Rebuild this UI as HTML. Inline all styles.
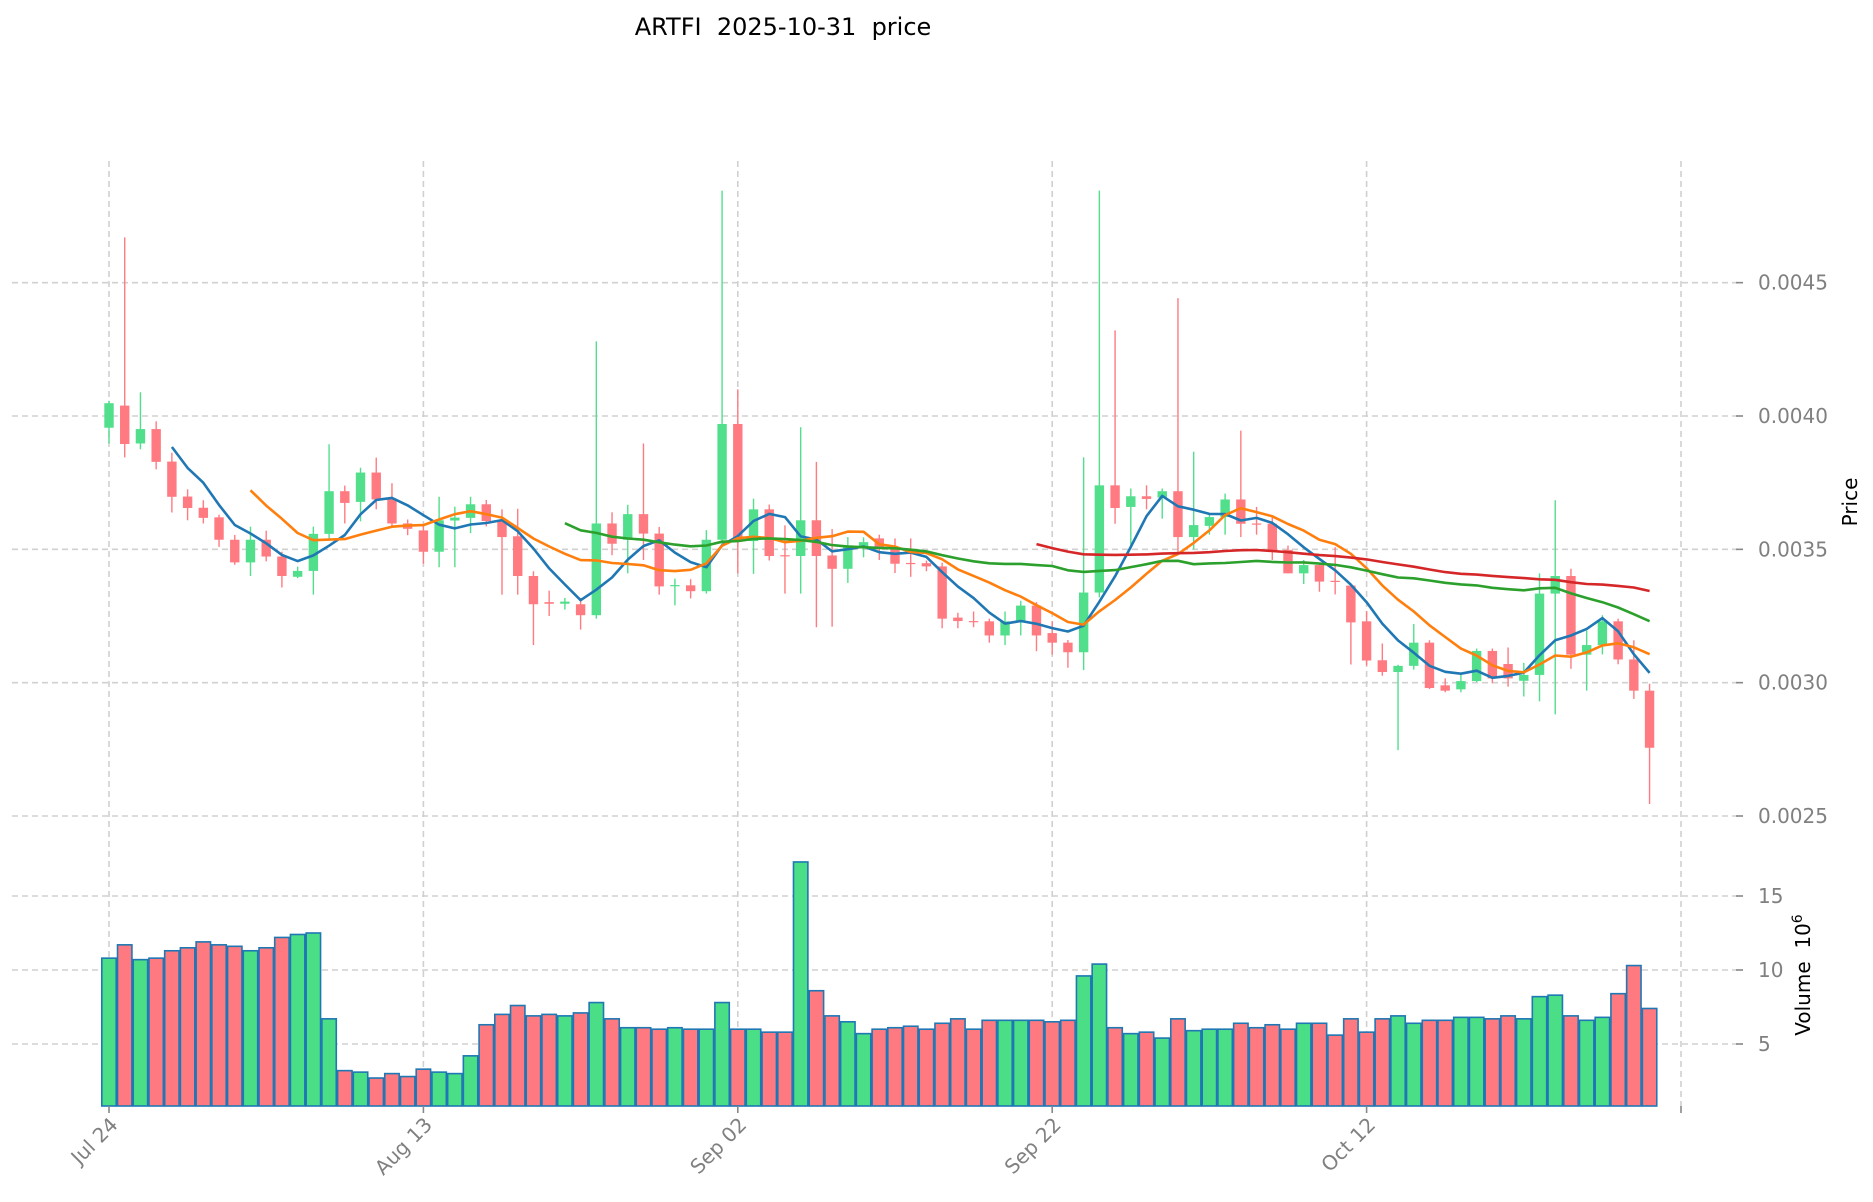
<!DOCTYPE html>
<html><head><meta charset="utf-8"><style>
html,body{margin:0;padding:0;background:#fff;}
svg{display:block;font-family:"DejaVu Sans","Liberation Sans",sans-serif;}
</style></head><body>
<svg id="chart" width="1873" height="1202" viewBox="0 0 1873 1202" xmlns="http://www.w3.org/2000/svg">
<text x="783" y="35" font-size="24" text-anchor="middle" fill="#000" xml:space="preserve" style="white-space:pre">ARTFI  2025-10-31  price</text>
<g id="grid"></g>
<g id="vol"></g>
<g id="candles"></g>
<g id="mas"></g>
<g id="axes"></g>
<text transform="translate(1857,502) rotate(-90)" font-size="20" text-anchor="middle" fill="#000">Price</text>
<text transform="translate(1810,975) rotate(-90)" font-size="20" text-anchor="middle" fill="#000" xml:space="preserve" style="white-space:pre">Volume  10<tspan font-size="14" dy="-8">6</tspan></text>
</svg>
<script>
const opens=[0.003956,0.004039,0.003897,0.003951,0.003829,0.003698,0.003656,0.00362,0.003536,0.003451,0.003536,0.003473,0.003397,0.003419,0.003558,0.003718,0.003678,0.003788,0.003687,0.003597,0.003571,0.003491,0.003608,0.003618,0.003669,0.003606,0.003549,0.0034,0.003302,0.003296,0.003294,0.003253,0.003597,0.003536,0.003632,0.003559,0.003362,0.003365,0.003343,0.003536,0.00397,0.003531,0.00365,0.003478,0.003475,0.003609,0.003477,0.003427,0.003509,0.003541,0.003502,0.003449,0.003448,0.003436,0.003244,0.003231,0.00323,0.003177,0.00323,0.003289,0.003186,0.00315,0.003114,0.003338,0.00374,0.003659,0.003699,0.003694,0.003718,0.003546,0.003588,0.003621,0.003687,0.003597,0.003596,0.003498,0.00341,0.003441,0.003382,0.003364,0.00323,0.003084,0.00304,0.003063,0.00315,0.00299,0.002975,0.003006,0.003119,0.00307,0.003007,0.003029,0.003334,0.0034,0.003105,0.003141,0.00323,0.003087,0.00297];
const highs=[0.004057,0.00467,0.004089,0.00398,0.003862,0.003725,0.003684,0.00363,0.003554,0.003585,0.00357,0.003491,0.003435,0.003585,0.003894,0.003739,0.003806,0.003844,0.003748,0.003612,0.00359,0.003697,0.00366,0.003697,0.003685,0.00365,0.003652,0.003418,0.003345,0.003318,0.003318,0.00428,0.003639,0.003667,0.003897,0.003584,0.00339,0.003388,0.003572,0.004845,0.0041,0.00369,0.003668,0.00359,0.003958,0.003828,0.003576,0.003546,0.003545,0.003555,0.003541,0.003541,0.003458,0.00345,0.003262,0.003267,0.00324,0.003267,0.003307,0.003302,0.00323,0.00316,0.003845,0.004845,0.004321,0.003728,0.00374,0.003728,0.004442,0.003866,0.003636,0.003709,0.003945,0.003659,0.003621,0.003514,0.00346,0.003445,0.003508,0.00337,0.003268,0.003147,0.003067,0.00322,0.003159,0.003016,0.003029,0.003128,0.003128,0.003132,0.003074,0.00341,0.003684,0.003427,0.003195,0.003253,0.00324,0.003159,0.002996];
const lows=[0.003897,0.003845,0.003875,0.0038,0.003638,0.003609,0.003597,0.003509,0.003442,0.0034,0.003455,0.003357,0.003392,0.00333,0.003536,0.003597,0.003605,0.00365,0.00358,0.003553,0.003446,0.003433,0.003433,0.003561,0.003586,0.00333,0.00333,0.003141,0.00325,0.003274,0.003199,0.00324,0.003478,0.00341,0.00346,0.00333,0.00329,0.003316,0.003334,0.00352,0.00341,0.003408,0.003458,0.003334,0.003334,0.003208,0.00321,0.003374,0.00347,0.00346,0.003411,0.003397,0.003418,0.003204,0.003204,0.003208,0.00315,0.003141,0.003177,0.003118,0.003105,0.003056,0.003047,0.00332,0.003596,0.0035,0.00365,0.003615,0.00349,0.0035,0.003555,0.003555,0.003546,0.003555,0.00346,0.00341,0.00337,0.003341,0.003331,0.003068,0.003064,0.003026,0.002747,0.003049,0.002976,0.002964,0.002964,0.003002,0.002998,0.002985,0.002948,0.00293,0.002881,0.003052,0.00297,0.003106,0.003069,0.002939,0.002545];
const closes=[0.004048,0.003895,0.003951,0.003828,0.003697,0.003655,0.003618,0.003536,0.003451,0.003536,0.003473,0.0034,0.003419,0.003558,0.003718,0.003674,0.003788,0.003687,0.003597,0.003577,0.003491,0.003609,0.003619,0.003669,0.003606,0.003546,0.0034,0.003294,0.003296,0.003304,0.003253,0.003597,0.003521,0.003632,0.003559,0.003361,0.003366,0.003343,0.003536,0.00397,0.003533,0.00365,0.003475,0.003476,0.003609,0.003475,0.003427,0.003515,0.003527,0.003502,0.003446,0.003448,0.003436,0.00324,0.003231,0.00323,0.003177,0.00323,0.003289,0.003177,0.00315,0.003114,0.003338,0.00374,0.003655,0.003699,0.003689,0.003718,0.003546,0.003591,0.003621,0.003687,0.003596,0.003595,0.003496,0.00341,0.003441,0.003379,0.00338,0.003226,0.003083,0.00304,0.003063,0.00315,0.00298,0.00297,0.003006,0.003119,0.003016,0.003016,0.003029,0.003334,0.0034,0.003105,0.003141,0.00323,0.003087,0.00297,0.002756];
const volumes=[10.8,11.7,10.7,10.8,11.3,11.5,11.9,11.7,11.6,11.3,11.5,12.2,12.4,12.5,6.7,3.2,3.1,2.7,3.0,2.8,3.3,3.1,3.0,4.2,6.3,7.0,7.6,6.9,7.0,6.9,7.1,7.8,6.7,6.1,6.1,6.0,6.1,6.0,6.0,7.8,6.0,6.0,5.8,5.8,17.3,8.6,6.9,6.5,5.7,6.0,6.1,6.2,6.0,6.4,6.7,6.0,6.6,6.6,6.6,6.6,6.5,6.6,9.6,10.4,6.1,5.7,5.8,5.4,6.7,5.9,6.0,6.0,6.4,6.1,6.3,6.0,6.4,6.4,5.6,6.7,5.8,6.7,6.9,6.4,6.6,6.6,6.8,6.8,6.7,6.9,6.7,8.2,8.3,6.9,6.6,6.8,8.4,10.3,7.4];
const xTickIdx=[0,20,40,60,80,100];
const xTickLabels=["Jul 24","Aug 13","Sep 02","Sep 22","Oct 12",""];
const priceTicks=[0.0025,0.0030,0.0035,0.0040,0.0045];
const priceTickLabels=["0.0025","0.0030","0.0035","0.0040","0.0045"];
const volTicks=[5,10,15];
const maWindows=[5,10,30,60];
const maColors=["#1f77b4","#ff7f0e","#2ca02c","#d62728"];

const NS="http://www.w3.org/2000/svg";
const X=i=>109+15.72*i;
const Y=p=>416-(p-0.004)*266667;
const VY=v=>1118-v*14.8;
const VBOT=1106, PTOP=161, LEFT=12, RIGHT=1743;
function mk(tag,attrs,parent){const e=document.createElementNS(NS,tag);for(const k in attrs)e.setAttribute(k,attrs[k]);parent.appendChild(e);return e;}
const grid=document.getElementById('grid'),axes=document.getElementById('axes');
priceTicks.forEach((p,k)=>{
  const l=mk('line',{x1:LEFT,x2:RIGHT,y1:Y(p),y2:Y(p),stroke:'#d0d0d0','stroke-width':1.6,'stroke-dasharray':'6,4'},grid);
  
  
  const t=mk('line',{x1:RIGHT-7,x2:RIGHT,y1:Y(p),y2:Y(p),stroke:'#888','stroke-width':1.6},axes);
  
  
  const tx=mk('text',{x:1758,y:Y(p)+7,'font-size':20,fill:'#808080'},axes);
  
  
  tx.textContent=priceTickLabels[k];
});
volTicks.forEach(v=>{
  const l=mk('line',{x1:LEFT,x2:RIGHT,y1:VY(v),y2:VY(v),stroke:'#d0d0d0','stroke-width':1.6,'stroke-dasharray':'6,4'},grid);
  
  
  const t=mk('line',{x1:RIGHT-7,x2:RIGHT,y1:VY(v),y2:VY(v),stroke:'#888','stroke-width':1.6},axes);
  
  
  const tx=mk('text',{x:1758,y:VY(v)+7,'font-size':20,fill:'#808080'},axes);
  
  
  tx.textContent=String(v);
});
xTickIdx.forEach((i,k)=>{
  const x=X(i);
  const l=mk('line',{x1:x,x2:x,y1:PTOP,y2:VBOT,stroke:'#d0d0d0','stroke-width':1.6,'stroke-dasharray':'6,4'},grid);
  
  
  const t=mk('line',{x1:x,x2:x,y1:VBOT,y2:VBOT+7,stroke:'#888','stroke-width':1.6},axes);
  
  
  if(xTickLabels[k]){
    const tx=mk('text',{x:0,y:0,'font-size':20,fill:'#808080','text-anchor':'end',transform:`translate(${x+10},${VBOT+20}) rotate(-45)`},axes);
    
    
    tx.textContent=xTickLabels[k];
  }
});
const GREEN='#52df8c',RED='#ff7b81';
const vol=document.getElementById('vol'),cg=document.getElementById('candles');
for(let i=0;i<closes.length;i++){
  const up=closes[i]>=opens[i], col=up?GREEN:RED, x=X(i);
  const b=mk('rect',{x:x-7.2,y:VY(volumes[i]),width:14.4,height:VBOT-VY(volumes[i]),fill:up?'#4ade87':'#ff7a80',stroke:'#1f77b4','stroke-width':1.6},vol);
  
  
  const w=mk('line',{x1:x,x2:x,y1:Y(highs[i]),y2:Y(lows[i]),stroke:col,'stroke-width':1.4},cg);
  
  
  const top=Y(Math.max(opens[i],closes[i])),bot=Y(Math.min(opens[i],closes[i]));
  const r=mk('rect',{x:x-4.7,y:top,width:9.4,height:Math.max(1.2,bot-top),fill:col},cg);
  
  
}
const mg=document.getElementById('mas');
maWindows.forEach((w,k)=>{
  const pts=[];
  for(let i=w-1;i<closes.length;i++){let s=0;for(let j=i-w+1;j<=i;j++)s+=closes[j];pts.push(X(i).toFixed(1)+','+Y(s/w).toFixed(1));}
  const pl=mk('polyline',{points:pts.join(' '),fill:'none',stroke:maColors[k],'stroke-width':2.6,'stroke-linejoin':'round'},mg);
  
  
});
</script>
</body></html>
